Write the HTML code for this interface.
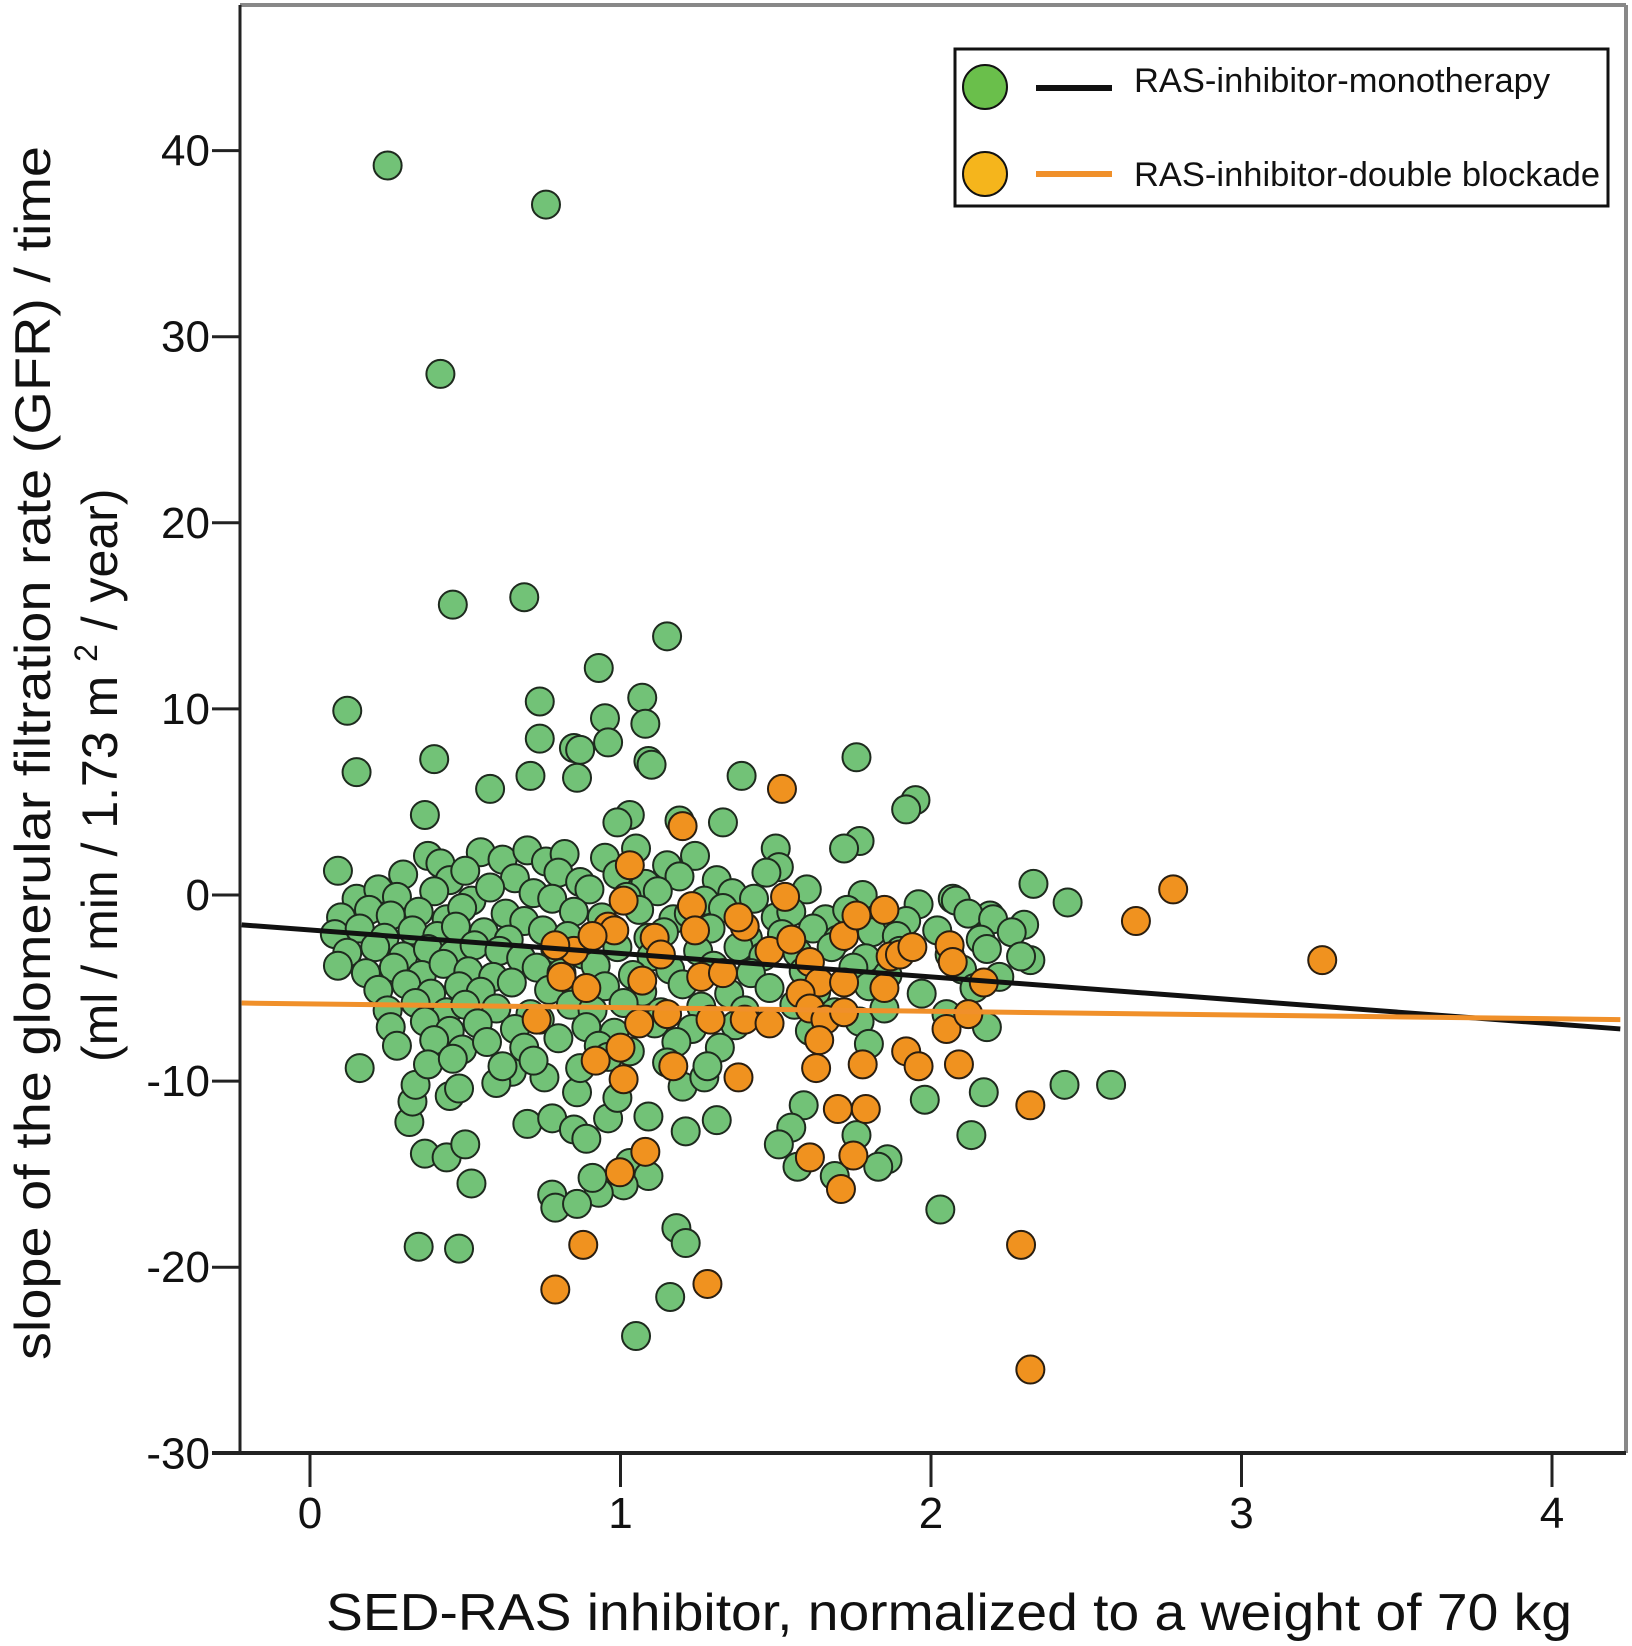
<!DOCTYPE html>
<html><head><meta charset="utf-8"><style>
html,body{margin:0;padding:0;background:#fff;}
svg{display:block;font-family:"Liberation Sans",Arial,sans-serif;}
</style></head><body>
<svg id="chart" width="1632" height="1646" viewBox="0 0 1632 1646" xmlns="http://www.w3.org/2000/svg">
<rect x="0" y="0" width="1632" height="1646" fill="#fff"/>
<g id="plot-frame">
<line x1="240" y1="5" x2="1626" y2="5" stroke="#888" stroke-width="4"/>
<line x1="1626" y1="5" x2="1626" y2="1453" stroke="#888" stroke-width="4"/>
<line x1="240" y1="5" x2="240" y2="1453" stroke="#222" stroke-width="3"/>
<line x1="212" y1="1453" x2="1626" y2="1453" stroke="#222" stroke-width="4"/>
</g>
<g id="points"></g>
<g id="fits"></g>
<g id="axes"></g>
<text x="326" y="1630" font-size="52" textLength="1246" lengthAdjust="spacingAndGlyphs" fill="#111">SED-RAS inhibitor, normalized to a weight of 70 kg</text>
<text transform="translate(50,1360) rotate(-90)" font-size="50" textLength="1214" lengthAdjust="spacingAndGlyphs" fill="#111">slope of the glomerular filtration rate  (GFR) / time</text>
<text transform="translate(117,1062) rotate(-90)" font-size="50" fill="#111">(ml / min / 1.73 m <tspan font-size="32" dy="-20">2</tspan><tspan dy="20"> / year)</tspan></text>
<g>
<rect x="955" y="49" width="653" height="157" fill="#fff" stroke="#111" stroke-width="3"/>
<circle cx="985" cy="87" r="22" fill="#6abf4b" stroke="#111" stroke-width="2"/>
<line x1="1036" y1="88" x2="1112" y2="88" stroke="#111" stroke-width="6"/>
<text x="1134" y="92" font-size="34.5" fill="#111">RAS-inhibitor-monotherapy</text>
<circle cx="985" cy="174" r="22" fill="#f5b51c" stroke="#111" stroke-width="2"/>
<line x1="1036" y1="174" x2="1112" y2="174" stroke="#f0902a" stroke-width="6"/>
<text x="1134" y="186" font-size="34.5" fill="#111">RAS-inhibitor-double blockade</text>
</g>
</svg>
<script>
const xTicks=[0,1,2,3,4];
const yTicks=[40,30,20,10,0,-10,-20,-30];
const xDomain=[-0.22,4.22];
const monoFit=[-1.88,-1.26];   // intercept, slope
const doubleFit=[-5.85,-0.2];
const monoPoints=[
[0.25,39.2],[0.76,37.1],[0.42,28.0],[0.46,15.6],[0.69,16.0],[1.15,13.9],[0.12,9.9],[0.15,6.6],[0.93,12.2],[1.07,10.6],
[1.08,9.2],[0.95,9.5],[0.74,10.4],[0.74,8.4],[0.96,8.2],[0.85,7.9],[0.87,7.8],[1.09,7.2],[1.10,7.0],[0.40,7.3],
[0.58,5.7],[0.71,6.4],[0.86,6.3],[1.39,6.4],[1.76,7.4],[1.95,5.1],[1.92,4.6],[0.37,4.3],[1.33,3.9],[1.19,4.0],
[1.03,4.3],[0.99,3.9],[1.50,2.5],[1.51,1.5],[1.77,2.9],[1.72,2.5],[0.09,1.3],[2.33,0.6],[2.44,-0.4],[2.07,-0.2],
[2.30,-1.6],[2.32,-3.5],[2.19,-1.1],[2.43,-10.2],[2.58,-10.2],[2.17,-10.6],[2.13,-12.9],[1.98,-11.0],[2.03,-16.9],[2.18,-7.1],
[1.86,-14.2],[1.83,-14.6],[1.76,-12.9],[1.59,-11.3],[1.55,-12.5],[1.51,-13.4],[1.57,-14.6],[1.69,-15.1],[1.31,-12.1],[1.21,-12.7],
[1.03,-14.4],[1.09,-15.1],[1.01,-15.6],[0.93,-16.0],[0.91,-15.2],[0.78,-16.1],[0.79,-16.8],[0.86,-16.6],[1.18,-17.9],[1.21,-18.7],
[1.16,-21.6],[1.05,-23.7],[0.35,-18.9],[0.48,-19.0],[0.37,-13.9],[0.44,-14.1],[0.50,-13.4],[0.52,-15.5],[0.16,-9.3],[0.32,-12.2],
[0.33,-11.1],[0.34,-10.2],[0.45,-10.8],[0.48,-10.4],[0.70,-12.3],[0.78,-12.0],[0.85,-12.6],[0.89,-13.1],[0.96,-12.0],[1.09,-11.9],
[0.86,-10.6],[0.99,-10.9],[1.20,-10.3],[1.27,-9.8],[0.65,-9.5],[0.755,-9.8],[0.60,-10.1],
[0.38,2.1],[0.42,1.7],[0.55,2.3],[0.62,1.9],[0.70,2.4],[0.76,1.8],[0.82,2.2],[0.95,2.0],[1.05,2.5],[1.15,1.6],[1.24,2.1],
[0.30,1.1],[0.45,0.8],[0.50,1.3],[0.66,0.9],[0.80,1.2],[0.87,0.7],[0.99,1.1],[1.08,0.6],[1.19,1.0],[1.31,0.8],[1.47,1.2],
[0.15,-0.2],[0.22,0.3],[0.28,-0.1],[0.40,0.2],[0.52,-0.3],[0.58,0.4],[0.72,0.1],[0.78,-0.2],[0.90,0.3],[1.02,-0.1],[1.12,0.2],[1.27,-0.3],[1.36,0.1],[1.43,-0.2],[1.60,0.3],[1.78,0.0],[1.96,-0.5],[2.08,-0.3],
[0.10,-1.2],[0.19,-0.8],[0.26,-1.1],[0.35,-0.9],[0.44,-1.3],[0.49,-0.7],[0.63,-1.0],[0.69,-1.4],[0.85,-0.9],[0.94,-1.2],[1.06,-0.8],[1.17,-1.3],[1.22,-1.0],[1.33,-0.7],[1.50,-1.2],[1.55,-0.9],[1.66,-1.3],[1.73,-0.8],[1.84,-1.1],[1.92,-1.4],[2.12,-1.0],[2.20,-1.3],
[0.08,-2.1],[0.16,-1.8],[0.24,-2.3],[0.33,-1.9],[0.41,-2.2],[0.47,-1.7],[0.56,-2.0],[0.64,-2.4],[0.75,-1.9],[0.83,-2.2],[0.97,-1.8],[1.09,-2.3],[1.14,-2.0],[1.29,-1.8],[1.41,-2.3],[1.52,-2.1],[1.62,-1.8],[1.70,-2.4],[1.81,-2.0],[1.89,-2.2],[2.02,-1.9],[2.16,-2.4],[2.26,-2.0],
[0.12,-3.1],[0.21,-2.8],[0.30,-3.3],[0.38,-2.9],[0.46,-3.2],[0.53,-2.7],[0.61,-3.0],[0.68,-3.4],[0.79,-2.9],[0.88,-3.2],[0.99,-2.8],[1.10,-3.3],[1.25,-3.0],[1.38,-2.8],[1.46,-3.3],[1.57,-3.1],[1.68,-2.8],[1.79,-3.4],[1.90,-3.0],[2.06,-3.2],[2.18,-2.9],[2.29,-3.3],
[0.09,-3.8],[0.18,-4.2],[0.27,-3.9],[0.36,-4.3],[0.43,-3.7],[0.51,-4.1],[0.59,-4.4],[0.73,-3.9],[0.81,-4.2],[0.92,-3.8],[1.04,-4.3],[1.16,-4.0],[1.30,-3.8],[1.42,-4.2],[1.59,-4.1],[1.75,-3.9],[1.86,-4.3],[2.10,-4.0],[2.22,-4.4],
[0.22,-5.1],[0.31,-4.8],[0.39,-5.3],[0.48,-4.9],[0.55,-5.2],[0.65,-4.7],[0.77,-5.1],[0.86,-5.4],[0.95,-4.9],[1.07,-5.2],[1.20,-4.8],[1.35,-5.3],[1.48,-5.0],[1.63,-5.2],[1.80,-4.9],[1.97,-5.3],[2.14,-5.0],
[0.25,-6.2],[0.34,-5.8],[0.44,-6.3],[0.50,-5.9],[0.60,-6.1],[0.71,-6.4],[0.84,-5.9],[0.91,-6.2],[1.01,-5.8],[1.13,-6.3],[1.26,-6.0],[1.40,-6.2],[1.56,-5.9],[1.69,-6.3],[1.85,-6.1],[2.05,-6.4],
[0.26,-7.1],[0.37,-6.8],[0.45,-7.3],[0.54,-6.9],[0.66,-7.2],[0.74,-6.7],[0.89,-7.1],[0.98,-7.4],[1.11,-6.9],[1.23,-7.2],[1.37,-7.0],[1.61,-7.3],[1.77,-6.8],
[0.28,-8.1],[0.40,-7.8],[0.49,-8.3],[0.57,-7.9],[0.69,-8.2],[0.80,-7.7],[0.93,-8.1],[1.03,-8.4],[1.18,-7.9],[1.32,-8.2],[1.80,-8.0],
[0.38,-9.1],[0.46,-8.8],[0.62,-9.2],[0.72,-8.9],[0.87,-9.3],[0.96,-8.7],[1.15,-9.0],[1.28,-9.2]
];
const doublePoints=[
[1.52,5.7],[1.20,3.7],[1.03,1.6],[2.78,0.3],[2.66,-1.4],[3.26,-3.5],[1.53,-0.1],[1.01,-0.3],[0.96,-1.7],[0.98,-1.9],
[1.72,-2.2],[1.76,-1.1],[1.85,-0.8],[1.40,-1.7],[1.38,-1.2],[1.23,-0.6],[1.24,-1.9],[1.11,-2.3],[1.13,-3.2],[0.85,-3.0],
[0.79,-2.7],[0.91,-2.2],[1.48,-3.0],[1.55,-2.4],[1.61,-3.6],[1.64,-4.7],[1.87,-3.3],[1.90,-3.2],[1.94,-2.8],[2.06,-2.7],
[2.07,-3.6],[2.17,-4.7],[0.81,-4.4],[0.89,-5.0],[1.07,-4.6],[1.26,-4.4],[1.33,-4.2],[1.58,-5.3],[1.61,-6.1],[1.72,-4.7],
[1.85,-5.0],[0.73,-6.7],[1.06,-6.9],[1.15,-6.4],[1.29,-6.7],[1.40,-6.7],[1.48,-6.9],[1.66,-6.7],[1.72,-6.3],[2.05,-7.2],
[2.12,-6.4],[1.64,-7.8],[1.92,-8.4],[1.96,-9.2],[2.09,-9.1],[0.92,-8.9],[1.00,-8.2],[1.01,-9.9],[1.17,-9.2],[1.38,-9.8],
[1.63,-9.3],[1.78,-9.1],[1.70,-11.5],[1.79,-11.5],[2.32,-11.3],[1.08,-13.8],[0.998,-14.9],[1.61,-14.1],[1.75,-14.0],[1.71,-15.8],
[0.88,-18.8],[0.79,-21.2],[1.28,-20.9],[2.29,-18.8],[2.32,-25.5]
];
const NS='http://www.w3.org/2000/svg';
function sx(v){return 310+v*310.5;}
function sy(v){return 895-v*18.61;}
function mk(tag,attrs,parent){const e=document.createElementNS(NS,tag);for(const k in attrs)e.setAttribute(k,attrs[k]);parent.appendChild(e);return e;}
const pts=document.getElementById('points');
monoPoints.forEach(function(p){
  const c=mk('circle',{cx:sx(p[0]),cy:sy(p[1]),r:14,fill:'#72c277',stroke:'#1e2a1e','stroke-width':2},pts);
  
  
});
doublePoints.forEach(function(p){
  const c=mk('circle',{cx:sx(p[0]),cy:sy(p[1]),r:14,fill:'#f0921f',stroke:'#2a1e10','stroke-width':2},pts);
  
  
});
const fits=document.getElementById('fits');
const l1=mk('line',{x1:sx(xDomain[0]),y1:sy(monoFit[0]+monoFit[1]*xDomain[0]),x2:sx(xDomain[1]),y2:sy(monoFit[0]+monoFit[1]*xDomain[1]),stroke:'#111','stroke-width':5},fits);


const l2=mk('line',{x1:sx(xDomain[0]),y1:sy(doubleFit[0]+doubleFit[1]*xDomain[0]),x2:sx(xDomain[1]),y2:sy(doubleFit[0]+doubleFit[1]*xDomain[1]),stroke:'#f0902a','stroke-width':5},fits);


const ax=document.getElementById('axes');
xTicks.forEach(function(t){
  mk('line',{x1:sx(t),y1:1453,x2:sx(t),y2:1487,stroke:'#222','stroke-width':3},ax);
  const tx=mk('text',{x:sx(t),y:1528,'font-size':44,'text-anchor':'middle',fill:'#111'},ax);
  tx.textContent=t;
  
  
});
yTicks.forEach(function(t){
  mk('line',{x1:212,y1:sy(t),x2:240,y2:sy(t),stroke:'#222','stroke-width':3},ax);
  const tx=mk('text',{x:210,y:sy(t)+15,'font-size':44,'text-anchor':'end',fill:'#111'},ax);
  tx.textContent=t;
  
  
});
</script>
</body></html>
